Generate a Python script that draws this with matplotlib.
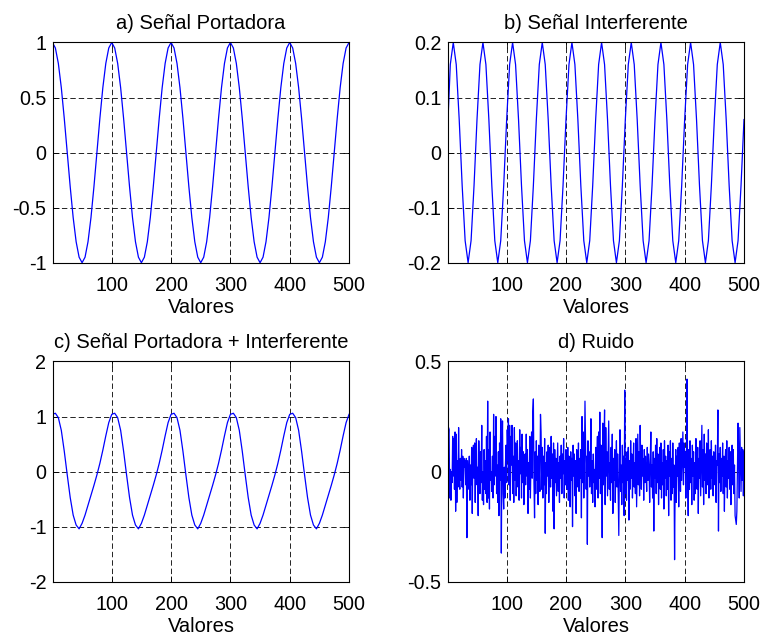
"""Four-panel signal figure: carrier, interference, their sum and noise."""
import matplotlib

matplotlib.use("Agg")
import matplotlib.pyplot as plt
import numpy as np

plt.rcParams["font.family"] = ["Liberation Sans", "DejaVu Sans"]
plt.rcParams["font.size"] = 14.2

# sample positions of the smooth signals (every 5 samples)
x_smooth = np.arange(0, 501, 5)
# noise is drawn at every sample 1..500
x_noise = np.arange(1, 501)

carrier = [
    1.00, 0.95, 0.81, 0.59, 0.31, 0.00, -0.31, -0.59, -0.81, -0.95,
    -1.00, -0.95, -0.81, -0.59, -0.31, 0.00, 0.31, 0.59, 0.81, 0.95,
    1.00, 0.95, 0.81, 0.59, 0.31, 0.00, -0.31, -0.59, -0.81, -0.95,
    -1.00, -0.95, -0.81, -0.59, -0.31, 0.00, 0.31, 0.59, 0.81, 0.95,
    1.00, 0.95, 0.81, 0.59, 0.31, 0.00, -0.31, -0.59, -0.81, -0.95,
    -1.00, -0.95, -0.81, -0.59, -0.31, 0.00, 0.31, 0.59, 0.81, 0.95,
    1.00, 0.95, 0.81, 0.59, 0.31, 0.00, -0.31, -0.59, -0.81, -0.95,
    -1.00, -0.95, -0.81, -0.59, -0.31, 0.00, 0.31, 0.59, 0.81, 0.95,
    1.00, 0.95, 0.81, 0.59, 0.31, 0.00, -0.31, -0.59, -0.81, -0.95,
    -1.00, -0.95, -0.81, -0.59, -0.31, 0.00, 0.31, 0.59, 0.81, 0.95,
    1.00,
]

interference = [
    0.03, 0.16, 0.20, 0.16, 0.06, -0.06, -0.16, -0.20, -0.16, -0.06,
    0.06, 0.16, 0.20, 0.16, 0.06, -0.06, -0.16, -0.20, -0.16, -0.06,
    0.06, 0.16, 0.20, 0.16, 0.06, -0.06, -0.16, -0.20, -0.16, -0.06,
    0.06, 0.16, 0.20, 0.16, 0.06, -0.06, -0.16, -0.20, -0.16, -0.06,
    0.06, 0.16, 0.20, 0.16, 0.06, -0.06, -0.16, -0.20, -0.16, -0.06,
    0.06, 0.16, 0.20, 0.16, 0.06, -0.06, -0.16, -0.20, -0.16, -0.06,
    0.06, 0.16, 0.20, 0.16, 0.06, -0.06, -0.16, -0.20, -0.16, -0.06,
    0.06, 0.16, 0.20, 0.16, 0.06, -0.06, -0.16, -0.20, -0.16, -0.06,
    0.06, 0.16, 0.20, 0.16, 0.06, -0.06, -0.16, -0.20, -0.16, -0.06,
    0.06, 0.16, 0.20, 0.16, 0.06, -0.06, -0.16, -0.20, -0.16, -0.06,
    0.06,
]

combined = [
    1.04, 1.06, 0.98, 0.75, 0.37, -0.06, -0.47, -0.79, -0.97, -1.04,
    -0.94, -0.79, -0.61, -0.43, -0.25, -0.06, 0.15, 0.39, 0.65, 0.89,
    1.04, 1.06, 0.98, 0.75, 0.37, -0.06, -0.47, -0.79, -0.97, -1.04,
    -0.94, -0.79, -0.61, -0.43, -0.25, -0.06, 0.15, 0.39, 0.65, 0.89,
    1.04, 1.06, 0.98, 0.75, 0.37, -0.06, -0.47, -0.79, -0.97, -1.04,
    -0.94, -0.79, -0.61, -0.43, -0.25, -0.06, 0.15, 0.39, 0.65, 0.89,
    1.04, 1.06, 0.98, 0.75, 0.37, -0.06, -0.47, -0.79, -0.97, -1.04,
    -0.94, -0.79, -0.61, -0.43, -0.25, -0.06, 0.15, 0.39, 0.65, 0.89,
    1.04, 1.06, 0.98, 0.75, 0.37, -0.06, -0.47, -0.79, -0.97, -1.04,
    -0.94, -0.79, -0.61, -0.43, -0.25, -0.06, 0.15, 0.39, 0.65, 0.89,
    1.04,
]

noise = [
    0.07, 0.20, 0.19, -0.12, 0.01, -0.13, 0.00, -0.05, 0.16, -0.02,
    0.15, -0.08, 0.18, -0.18, 0.17, -0.14, 0.05, -0.07, 0.20, -0.03,
    -0.08, 0.06, -0.04, 0.10, -0.07, 0.07, -0.12, 0.06, 0.02, 0.05,
    -0.06, 0.06, -0.30, 0.05, -0.02, -0.08, 0.07, -0.13, 0.03, -0.06,
    0.11, -0.19, 0.06, 0.12, -0.03, 0.13, -0.14, 0.08, 0.15, -0.06,
    0.02, -0.20, 0.14, -0.01, -0.10, 0.09, -0.05, 0.21, -0.13, 0.00,
    -0.15, 0.10, -0.08, 0.05, -0.10, 0.16, -0.14, 0.32, -0.12, 0.10,
    -0.17, 0.18, -0.04, 0.00, -0.09, 0.07, -0.12, 0.26, -0.06, 0.16,
    -0.02, 0.25, -0.10, 0.03, -0.14, 0.09, -0.20, 0.13, -0.04, 0.24,
    -0.37, 0.06, 0.23, -0.10, -0.17, 0.02, -0.12, 0.04, 0.12, -0.05,
    0.19, 0.05, 0.24, -0.06, 0.21, -0.13, 0.16, 0.03, 0.21, -0.10,
    0.07, -0.14, 0.20, -0.04, 0.13, -0.11, 0.03, 0.14, -0.07, 0.05,
    -0.13, 0.19, -0.01, 0.11, -0.12, 0.17, -0.05, 0.09, -0.15, 0.00,
    0.08, -0.06, 0.17, -0.02, 0.10, -0.19, 0.04, -0.08, 0.16, -0.12,
    0.05, 0.18, -0.03, 0.27, 0.33, -0.05, -0.21, 0.09, -0.10, 0.14,
    -0.04, 0.07, -0.15, 0.12, 0.00, -0.09, 0.26, 0.18, -0.08, 0.11,
    -0.12, 0.07, -0.06, 0.15, -0.28, 0.04, -0.10, 0.09, -0.02, 0.12,
    -0.14, 0.05, 0.11, -0.07, 0.16, -0.03, 0.08, -0.18, 0.13, -0.26,
    0.10, -0.05, 0.06, -0.11, 0.02, 0.13, -0.09, 0.04, -0.14, 0.07,
    -0.03, 0.12, -0.10, 0.08, -0.01, 0.15, -0.12, 0.05, -0.06, 0.10,
    0.04, -0.08, 0.11, -0.13, 0.07, 0.02, -0.16, 0.09, -0.04, 0.06,
    -0.25, 0.12, -0.02, 0.08, -0.11, 0.05, -0.19, 0.10, 0.03, -0.07,
    0.13, -0.09, 0.06, -0.03, 0.10, -0.21, 0.25, -0.05, 0.18, -0.12,
    0.04, 0.32, 0.10, -0.08, 0.07, -0.33, 0.14, -0.02, 0.09, -0.07,
    0.03, 0.24, -0.10, 0.05, -0.14, 0.08, -0.05, 0.01, -0.16, 0.11,
    -0.08, 0.06, 0.16, -0.12, 0.18, -0.03, 0.27, -0.10, 0.12, 0.05,
    -0.30, 0.22, -0.06, 0.13, 0.28, -0.15, 0.20, -0.02, 0.09, -0.11,
    0.07, 0.23, -0.08, 0.04, -0.13, 0.11, -0.05, 0.17, -0.19, 0.06,
    -0.04, 0.10, -0.14, 0.02, 0.14, -0.07, 0.08, -0.12, -0.29, 0.05,
    0.19, -0.09, 0.03, -0.15, 0.12, -0.05, 0.07, -0.20, 0.37, -0.10,
    0.06, -0.13, 0.09, -0.04, 0.11, -0.22, 0.05, -0.08, 0.14, -0.03,
    0.08, -0.12, 0.02, 0.13, -0.07, 0.04, -0.10, 0.15, -0.16, 0.01,
    0.17, -0.06, 0.09, -0.11, 0.21, 0.03, -0.08, 0.12, -0.02, 0.06,
    -0.13, 0.10, -0.05, 0.07, 0.00, -0.09, 0.11, -0.04, 0.08, 0.02,
    -0.14, 0.05, 0.18, -0.07, 0.03, -0.12, 0.09, -0.27, 0.06, -0.03,
    0.12, -0.10, 0.15, -0.05, 0.08, -0.15, 0.02, 0.11, -0.08, 0.13,
    -0.12, 0.04, -0.06, 0.10, -0.17, 0.14, -0.03, 0.07, -0.11, 0.05,
    -0.08, 0.12, -0.20, 0.09, -0.02, 0.14, -0.13, 0.06, -0.10, 0.13,
    -0.07, 0.03, -0.40, -0.05, 0.10, -0.14, 0.07, -0.02, 0.11, -0.16,
    0.13, 0.06, -0.09, 0.15, -0.04, 0.08, 0.18, -0.06, 0.13, 0.02,
    0.09, -0.12, 0.07, 0.42, -0.03, -0.20, 0.10, -0.08, 0.14, -0.05,
    0.06, -0.15, 0.12, -0.02, 0.09, -0.13, 0.04, -0.10, 0.15, 0.01,
    -0.08, 0.11, -0.19, 0.06, -0.03, 0.14, -0.11, 0.05, 0.21, -0.07,
    0.10, -0.15, 0.17, -0.04, 0.08, -0.10, 0.13, 0.02, -0.06, 0.19,
    -0.12, 0.04, 0.10, -0.08, 0.14, -0.03, 0.07, -0.11, 0.09, 0.00,
    -0.06, 0.12, -0.14, 0.05, 0.03, 0.28, -0.27, 0.08, -0.05, 0.11,
    -0.09, 0.06, -0.02, 0.13, -0.10, 0.07, -0.18, 0.04, 0.10, -0.07,
    0.14, -0.12, 0.05, -0.03, 0.11, -0.08, 0.09, -0.15, 0.02, 0.12,
    -0.06, 0.10, -0.10, 0.03, -0.20, -0.22, -0.24, -0.18, 0.01, 0.22,
    0.08, -0.12, 0.20, 0.05, -0.09, 0.11, -0.04, 0.10, -0.11, 0.09,
]

x_ticks = [100, 200, 300, 400, 500]
panels = [
    ("a) Señal Portadora", x_smooth, carrier,
     [-1, -0.5, 0, 0.5, 1], ["-1", "-0.5", "0", "0.5", "1"]),
    ("b) Señal Interferente", x_smooth, interference,
     [-0.2, -0.1, 0, 0.1, 0.2], ["-0.2", "-0.1", "0", "0.1", "0.2"]),
    ("c) Señal Portadora + Interferente", x_smooth, combined,
     [-2, -1, 0, 1, 2], ["-2", "-1", "0", "1", "2"]),
    ("d) Ruido", x_noise, noise,
     [-0.5, 0, 0.5], ["-0.5", "0", "0.5"]),
]

# axes rectangles in figure fractions (left, bottom, width, height)
rects = [
    (0.0691, 0.5876, 0.386, 0.3457),
    (0.5840, 0.5876, 0.386, 0.3457),
    (0.0691, 0.0868, 0.386, 0.3457),
    (0.5840, 0.0868, 0.386, 0.3457),
]

fig = plt.figure(figsize=(7.67, 6.37), dpi=100)
for rect, (title, xs, ys, yt, ylab) in zip(rects, panels):
    ax = fig.add_axes(rect)
    ax.plot(xs, ys, color="#0000ff", lw=0.9)
    ax.set_xlim(1, 500)
    ax.set_ylim(yt[0], yt[-1])
    ax.set_xticks(x_ticks)
    ax.set_xticklabels([str(t) for t in x_ticks])
    ax.set_yticks(yt)
    ax.set_yticklabels(ylab)
    ax.grid(True, color="black", linestyle=(0, (6.5, 3.6)), lw=0.6)
    ax.tick_params(axis="x", direction="in", top=True, length=4,
                   width=0.6, pad=9.5)
    ax.tick_params(axis="y", direction="in", right=True, length=4,
                   width=0.6, pad=4.8)
    for s in ax.spines.values():
        s.set_linewidth(0.8)
    ax.set_title(title, fontsize=14.5, pad=10)
    ax.set_xlabel("Valores", fontsize=14.5, labelpad=2)

fig.savefig("out.png", dpi=100)
plt.close(fig)
